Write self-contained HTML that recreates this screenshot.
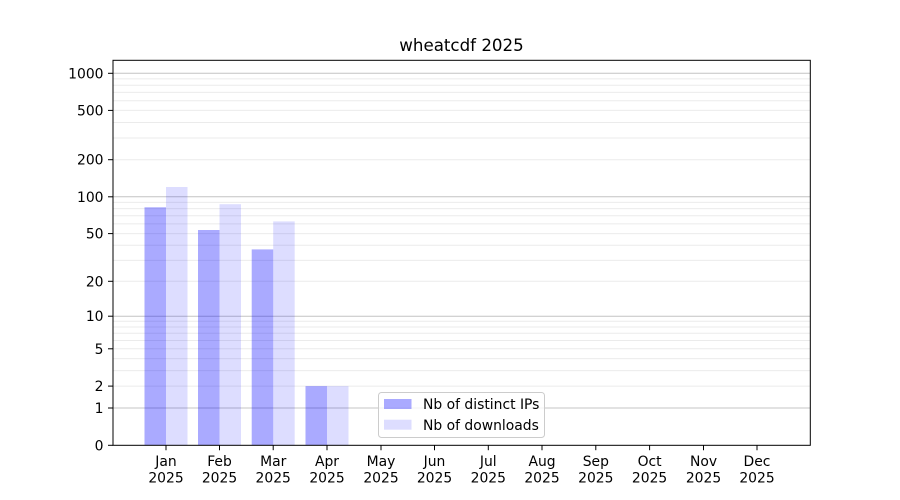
<!DOCTYPE html>
<html><head><meta charset="utf-8"><style>
html,body{margin:0;padding:0;background:#fff;}
svg{display:block;}
text{font-family:"DejaVu Sans","Liberation Sans",sans-serif;fill:#000;}
</style></head><body>
<svg width="900" height="500" viewBox="0 0 900 500" xmlns="http://www.w3.org/2000/svg">
<rect x="0" y="0" width="900" height="500" fill="#fff"/>
<!-- minor gridlines -->
<g stroke="#ebebeb" stroke-width="1">
<line x1="113" x2="810" y1="386.1" y2="386.1"/>
<line x1="113" x2="810" y1="370.6" y2="370.6"/>
<line x1="113" x2="810" y1="358.6" y2="358.6"/>
<line x1="113" x2="810" y1="348.8" y2="348.8"/>
<line x1="113" x2="810" y1="340.5" y2="340.5"/>
<line x1="113" x2="810" y1="333.3" y2="333.3"/>
<line x1="113" x2="810" y1="327.0" y2="327.0"/>
<line x1="113" x2="810" y1="321.3" y2="321.3"/>
<line x1="113" x2="810" y1="281.3" y2="281.3"/>
<line x1="113" x2="810" y1="260.4" y2="260.4"/>
<line x1="113" x2="810" y1="245.3" y2="245.3"/>
<line x1="113" x2="810" y1="233.6" y2="233.6"/>
<line x1="113" x2="810" y1="223.9" y2="223.9"/>
<line x1="113" x2="810" y1="215.7" y2="215.7"/>
<line x1="113" x2="810" y1="208.6" y2="208.6"/>
<line x1="113" x2="810" y1="202.4" y2="202.4"/>
<line x1="113" x2="810" y1="159.7" y2="159.7"/>
<line x1="113" x2="810" y1="138.0" y2="138.0"/>
<line x1="113" x2="810" y1="122.5" y2="122.5"/>
<line x1="113" x2="810" y1="110.4" y2="110.4"/>
<line x1="113" x2="810" y1="100.7" y2="100.7"/>
<line x1="113" x2="810" y1="92.4" y2="92.4"/>
<line x1="113" x2="810" y1="85.3" y2="85.3"/>
<line x1="113" x2="810" y1="78.9" y2="78.9"/>
</g>
<!-- major gridlines -->
<g stroke="#c4c4c4" stroke-width="1">
<line x1="113" x2="810" y1="408.0" y2="408.0"/>
<line x1="113" x2="810" y1="316.2" y2="316.2"/>
<line x1="113" x2="810" y1="196.8" y2="196.8"/>
<line x1="113" x2="810" y1="73.3" y2="73.3"/>
</g>
<!-- bars -->
<g fill="rgba(0,0,255,0.333)">
<rect x="144.5" y="207.3" width="21.5" height="238"/>
<rect x="198" y="230" width="21.5" height="215.3"/>
<rect x="251.7" y="249.4" width="21.5" height="195.9"/>
<rect x="305.5" y="386.1" width="21.5" height="59.2"/>
</g>
<g fill="rgba(0,0,255,0.135)">
<rect x="166" y="187.0" width="21.5" height="258.3"/>
<rect x="219.5" y="204.2" width="21.5" height="241.1"/>
<rect x="273.2" y="221.4" width="21.5" height="223.9"/>
<rect x="327" y="386.1" width="21.5" height="59.2"/>
</g>
<!-- axes frame -->
<rect x="113" y="60.3" width="697.3" height="385" fill="none" stroke="#000" stroke-width="1"/>
<!-- y ticks -->
<g stroke="#000" stroke-width="1">
<line x1="108" x2="113" y1="445.3" y2="445.3"/>
<line x1="108" x2="113" y1="408.0" y2="408.0"/>
<line x1="108" x2="113" y1="386.1" y2="386.1"/>
<line x1="108" x2="113" y1="348.8" y2="348.8"/>
<line x1="108" x2="113" y1="316.2" y2="316.2"/>
<line x1="108" x2="113" y1="281.3" y2="281.3"/>
<line x1="108" x2="113" y1="233.6" y2="233.6"/>
<line x1="108" x2="113" y1="196.8" y2="196.8"/>
<line x1="108" x2="113" y1="159.7" y2="159.7"/>
<line x1="108" x2="113" y1="110.4" y2="110.4"/>
<line x1="108" x2="113" y1="73.3" y2="73.3"/>
</g>
<g font-size="13.9" text-anchor="end">
<text x="103.5" y="450.3">0</text>
<text x="103.5" y="413.0">1</text>
<text x="103.5" y="391.1">2</text>
<text x="103.5" y="353.8">5</text>
<text x="103.5" y="321.2">10</text>
<text x="103.5" y="286.3">20</text>
<text x="103.5" y="238.6">50</text>
<text x="103.5" y="201.8">100</text>
<text x="103.5" y="164.7">200</text>
<text x="103.5" y="115.4">500</text>
<text x="103.5" y="78.3">1000</text>
</g>
<!-- x ticks -->
<g stroke="#000" stroke-width="1">
<line x1="166" x2="166" y1="445.3" y2="450.2"/>
<line x1="219.5" x2="219.5" y1="445.3" y2="450.2"/>
<line x1="273.2" x2="273.2" y1="445.3" y2="450.2"/>
<line x1="327" x2="327" y1="445.3" y2="450.2"/>
<line x1="381" x2="381" y1="445.3" y2="450.2"/>
<line x1="434.5" x2="434.5" y1="445.3" y2="450.2"/>
<line x1="488.3" x2="488.3" y1="445.3" y2="450.2"/>
<line x1="542" x2="542" y1="445.3" y2="450.2"/>
<line x1="595.8" x2="595.8" y1="445.3" y2="450.2"/>
<line x1="649.6" x2="649.6" y1="445.3" y2="450.2"/>
<line x1="703.5" x2="703.5" y1="445.3" y2="450.2"/>
<line x1="757" x2="757" y1="445.3" y2="450.2"/>
</g>
<g font-size="13.9" text-anchor="middle">
<text x="166" y="466">Jan</text><text x="166" y="482.5">2025</text>
<text x="219.5" y="466">Feb</text><text x="219.5" y="482.5">2025</text>
<text x="273.2" y="466">Mar</text><text x="273.2" y="482.5">2025</text>
<text x="327" y="466">Apr</text><text x="327" y="482.5">2025</text>
<text x="381" y="466">May</text><text x="381" y="482.5">2025</text>
<text x="434.5" y="466">Jun</text><text x="434.5" y="482.5">2025</text>
<text x="488.3" y="466">Jul</text><text x="488.3" y="482.5">2025</text>
<text x="542" y="466">Aug</text><text x="542" y="482.5">2025</text>
<text x="595.8" y="466">Sep</text><text x="595.8" y="482.5">2025</text>
<text x="649.6" y="466">Oct</text><text x="649.6" y="482.5">2025</text>
<text x="703.5" y="466">Nov</text><text x="703.5" y="482.5">2025</text>
<text x="757" y="466">Dec</text><text x="757" y="482.5">2025</text>
</g>
<!-- title -->
<text x="461.5" y="51" font-size="16.67" text-anchor="middle">wheatcdf 2025</text>
<!-- legend -->
<rect x="378.5" y="392.5" width="166" height="45" rx="3" ry="3" fill="rgba(255,255,255,0.8)" stroke="#cccccc" stroke-width="1"/>
<rect x="384" y="399" width="27.5" height="10" fill="rgba(0,0,255,0.333)"/>
<rect x="384" y="419.7" width="27.5" height="10" fill="rgba(0,0,255,0.135)"/>
<g font-size="13.9">
<text x="423" y="409">Nb of distinct IPs</text>
<text x="423" y="430">Nb of downloads</text>
</g>
</svg>
</body></html>
